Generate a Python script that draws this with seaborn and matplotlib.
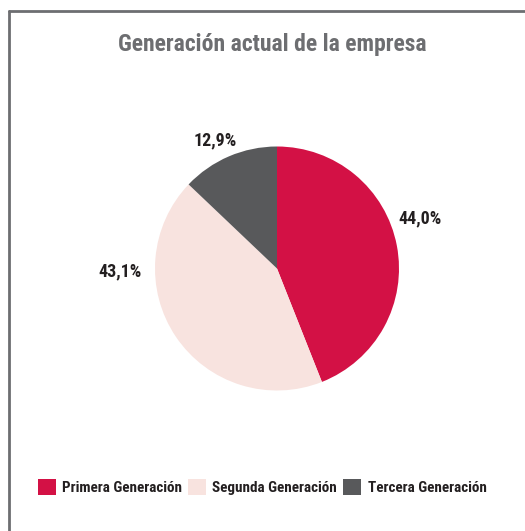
import matplotlib
matplotlib.use("Agg")
import matplotlib.pyplot as plt
import seaborn as sns
import numpy as np
from matplotlib.patches import Patch
from matplotlib.lines import Line2D

sns.set_theme(style="white")
plt.rcParams['font.family'] = ['Roboto Condensed', 'DejaVu Sans']

categories = ["Primera Generación", "Segunda Generación", "Tercera Generación"]
values = [44.0, 43.1, 12.9]
value_labels = ["44,0%", "43,1%", "12,9%"]
colors = ["#D31145", "#F8E3DF", "#58595B"]
title = "Generación actual de la empresa"

# label placement (angle in degrees, distance in radii)
label_pos = [(19.5, 1.24), (181.0, 1.29), (115.8, 1.17)]

fig = plt.figure(figsize=(5.25, 5.31), dpi=100)
fig.patch.set_facecolor("white")

# left and top border
fig.add_artist(Line2D([8.5/525, 8.5/525], [0, 1 - 10.5/531], transform=fig.transFigure, color="#6D6E71", lw=2))
fig.add_artist(Line2D([8.5/525, 1], [1 - 10.5/531, 1 - 10.5/531], transform=fig.transFigure, color="#6D6E71", lw=2))

cx, cy, r = 277/525, 1 - 268.5/531, 122
ax = fig.add_axes([cx - r/525, cy - r/531, 2*r/525, 2*r/531])
ax.pie(values, colors=colors, startangle=90, counterclock=False, radius=1.0,
       wedgeprops=dict(linewidth=0))
ax.set_xlim(-1, 1)
ax.set_ylim(-1, 1)
ax.set_aspect("equal")
ax.axis("off")

for (ang, d), lab in zip(label_pos, value_labels):
    a = np.deg2rad(ang)
    ax.text(d*np.cos(a), d*np.sin(a), lab, ha="center", va="center",
            fontsize=13, fontweight="bold", color="#231F20")

fig.text(272/525, 1 - 45/531, title, ha="center", va="center",
         fontsize=17, fontweight="bold", color="#6D6E71")

handles = [Patch(facecolor=c, edgecolor="none") for c in colors]
leg = fig.legend(handles, categories, loc="center left", bbox_to_anchor=(38/525, 1 - 487/531),
                 ncol=3, frameon=False, fontsize=10.9, handlelength=1.2, handleheight=1.2,
                 handletextpad=0.4, columnspacing=0.4, borderaxespad=0, borderpad=0)
for t in leg.get_texts():
    t.set_fontweight("bold")
    t.set_color("#231F20")

fig.savefig("out.png", dpi=100)
